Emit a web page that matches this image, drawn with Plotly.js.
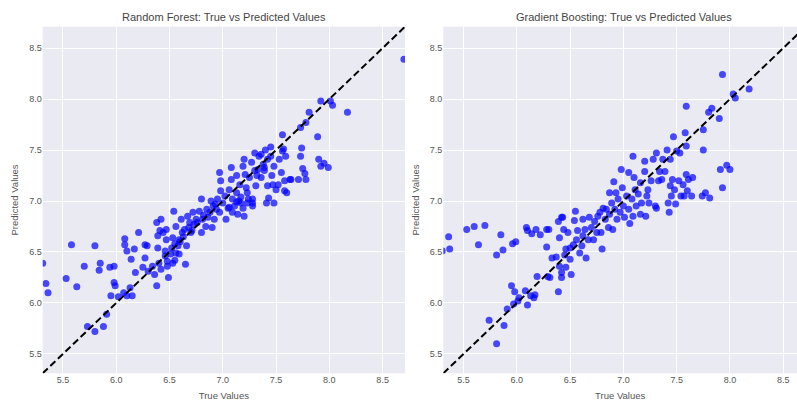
<!DOCTYPE html>
<html>
<head>
<meta charset="utf-8">
<script src="https://cdn.plot.ly/plotly-3.0.1.min.js"></script>
<style>html,body{margin:0;padding:0;background:#fff;}#chart{width:797px;height:401px;}</style>
</head>
<body>
<div id="chart"></div>
<script>
// ---------- Data ----------
const rfTrue = [5.31,5.34,5.36,5.53,5.58,5.63,5.70,5.73,5.80,5.80,5.85,5.84,5.88,5.91,5.94,5.95,5.98,5.98,5.99,6.02,6.08,6.08,6.10,6.07,6.10,6.13,6.15,6.14,6.17,6.18,6.21,6.27,6.29,6.27,6.25,6.30,6.34,6.36,6.38,6.39,6.40,6.38,6.42,6.41,6.44,6.42,6.46,6.46,6.47,6.47,6.49,6.48,6.52,6.48,6.54,6.55,6.56,6.53,6.56,6.58,6.59,6.61,6.62,6.64,6.66,6.65,6.67,6.69,6.70,6.72,6.73,6.75,6.78,6.80,6.80,6.81,6.84,6.85,6.88,6.89,6.91,6.90,6.92,6.94,6.95,6.97,6.98,6.98,6.97,7.00,7.02,7.03,7.05,7.06,7.08,7.08,7.09,7.09,7.11,7.13,7.13,7.14,7.15,7.16,7.17,7.19,7.20,7.20,7.21,7.22,7.23,7.23,7.25,7.27,7.28,7.28,7.30,7.31,7.32,7.33,7.34,7.36,7.38,7.39,7.40,7.41,7.42,7.43,7.45,7.45,7.46,7.47,7.48,7.48,7.50,7.52,7.53,7.55,7.56,7.56,7.57,7.58,7.58,7.59,7.60,7.63,7.64,7.71,7.73,7.73,7.74,7.75,7.77,7.78,7.78,7.81,7.89,7.90,7.92,7.92,7.95,7.99,8.01,8.03,8.17,8.70,6.53,6.59,6.39,7.06,7.13,7.19,7.28,7.24,7.17,7.30,7.39,7.36,7.42,6.60,6.63,6.68,6.71,6.76,6.82,6.86,6.93,6.55,6.51];
const rfPred = [6.39,6.19,6.10,6.24,6.57,6.16,6.36,5.77,5.72,6.56,6.39,6.32,5.77,5.89,6.35,6.07,6.36,6.20,6.17,6.06,6.63,6.57,6.51,6.10,6.07,6.15,6.07,6.43,6.53,6.30,6.69,6.57,6.56,6.44,6.35,6.31,6.36,6.28,6.17,6.54,6.39,6.79,6.82,6.71,6.69,6.33,6.46,6.51,6.62,6.72,6.25,6.36,6.54,6.41,6.90,6.42,6.49,6.64,6.75,6.56,6.62,6.82,6.69,6.72,6.56,6.38,6.85,6.79,6.69,6.89,6.77,6.82,6.90,7.02,6.69,6.82,6.75,6.92,6.89,7.00,6.95,6.74,6.82,6.92,7.02,7.28,7.20,7.10,6.89,6.98,7.05,6.82,6.93,7.11,7.33,7.21,7.02,6.89,6.95,7.08,7.25,6.87,7.00,7.16,6.98,7.34,7.41,6.85,7.26,7.13,7.08,6.98,7.23,7.38,6.98,6.95,7.47,7.15,7.25,7.31,7.44,7.23,7.36,7.33,7.50,6.98,7.15,7.03,7.53,7.44,7.25,7.16,7.34,6.98,7.11,7.16,7.41,7.28,7.49,7.65,7.51,7.10,7.20,7.44,7.08,7.21,7.21,7.21,7.44,7.72,7.52,7.32,7.27,7.21,7.77,7.87,7.63,7.41,7.98,7.34,7.37,7.33,7.98,7.94,7.87,8.39,6.39,6.48,6.66,6.94,6.99,6.93,7.02,7.02,7.04,7.30,7.30,7.46,7.41,6.60,6.65,6.74,6.71,6.79,6.86,6.84,6.97,6.58,6.48];

const gbTrue = [5.30,5.36,5.37,5.53,5.60,5.64,5.70,5.74,5.81,5.81,5.85,5.87,5.88,5.91,5.95,5.96,5.98,5.99,5.97,6.01,6.02,6.09,6.10,6.08,6.10,6.13,6.14,6.16,6.18,6.17,6.19,6.22,6.28,6.28,6.30,6.29,6.31,6.33,6.37,6.39,6.39,6.40,6.40,6.42,6.42,6.43,6.44,6.42,6.45,6.46,6.46,6.48,6.50,6.51,6.50,6.53,6.55,6.54,6.56,6.57,6.59,6.61,6.62,6.62,6.64,6.65,6.67,6.68,6.70,6.72,6.73,6.75,6.76,6.78,6.79,6.80,6.81,6.83,6.84,6.86,6.87,6.87,6.89,6.90,6.91,6.92,6.93,6.94,6.95,6.97,6.98,6.99,7.00,7.01,7.03,7.05,7.05,7.06,7.08,7.09,7.09,7.10,7.11,7.12,7.14,7.16,7.16,7.17,7.20,7.20,7.21,7.22,7.23,7.24,7.26,7.28,7.30,7.31,7.31,7.33,7.34,7.36,7.37,7.39,7.41,7.42,7.43,7.44,7.44,7.45,7.46,7.47,7.48,7.49,7.50,7.52,7.53,7.54,7.56,7.57,7.58,7.59,7.59,7.59,7.60,7.61,7.64,7.65,7.74,7.75,7.75,7.77,7.80,7.81,7.83,7.91,7.90,7.93,7.93,7.97,8.00,8.03,8.05,8.18];
const gbPred = [6.51,6.65,6.53,6.72,6.75,6.57,6.76,5.83,6.47,5.60,6.67,6.52,5.78,5.94,6.17,6.58,6.11,6.60,5.99,6.02,6.05,6.74,6.71,6.12,5.98,6.07,6.68,6.05,6.72,6.08,6.26,6.67,6.72,6.55,6.72,6.26,6.25,6.44,6.45,6.11,6.80,6.64,6.36,6.84,6.25,6.84,6.72,6.30,6.47,6.35,6.53,6.69,6.43,6.28,6.54,6.57,6.90,6.81,6.62,6.71,6.49,6.56,6.82,6.66,6.72,6.44,6.62,6.84,6.74,6.62,6.80,6.69,6.85,6.89,6.69,6.53,6.93,6.82,6.92,6.74,7.08,6.87,6.98,6.72,7.19,6.92,7.08,6.82,7.02,6.89,7.31,7.13,6.95,6.84,7.05,6.92,7.28,6.78,7.02,6.85,7.44,7.23,7.11,6.95,7.07,7.18,6.87,6.98,7.39,7.29,6.85,7.05,7.11,6.98,7.20,7.41,6.95,6.93,7.47,7.20,7.29,7.21,7.41,7.29,7.50,6.98,6.89,7.15,7.41,7.05,7.21,7.63,7.11,6.97,7.49,7.20,7.47,7.05,7.16,7.05,7.67,7.93,7.54,7.26,7.10,7.21,7.05,7.23,7.05,7.50,7.70,7.08,7.87,7.03,7.91,7.31,7.81,8.24,7.13,7.35,7.31,8.05,8.01,8.10];

const AXIS_MIN = 5.31;
const AXIS_MAX = 8.71;
const tickValues = [5.5, 6.0, 6.5, 7.0, 7.5, 8.0, 8.5];
const tickLabels = ['5.5', '6.0', '6.5', '7.0', '7.5', '8.0', '8.5'];

const panelTitles = ['Random Forest: True vs Predicted Values', 'Gradient Boosting: True vs Predicted Values'];
const xTitle = 'True Values';
const yTitle = 'Predicted Values';

// ---------- Styling ----------
const FONT = 'Liberation Sans, Arial, sans-serif';
const W = 797, H = 401;
const leftPx = [42.7, 405.0];
const rightPx = [443.3, 797.0];
const fullRightWidth = leftPx[1] - leftPx[0];
const topPx = 26.7, bottomPx = 373.3;

const scatterStyle = {mode: 'markers', marker: {color: 'blue', size: 7, opacity: 0.7, line: {width: 0}}, hoverinfo: 'x+y'};
const diagStyle = {mode: 'lines', line: {color: 'black', width: 2, dash: '7px,3.5px'}, hoverinfo: 'skip'};

const traces = [
  Object.assign({x: rfTrue, y: rfPred, xaxis: 'x', yaxis: 'y', type: 'scatter'}, scatterStyle),
  Object.assign({x: [AXIS_MIN, AXIS_MAX], y: [AXIS_MIN, AXIS_MAX], xaxis: 'x', yaxis: 'y', type: 'scatter'}, diagStyle),
  Object.assign({x: gbTrue, y: gbPred, xaxis: 'x2', yaxis: 'y2', type: 'scatter'}, scatterStyle),
  Object.assign({x: [AXIS_MIN, AXIS_MAX], y: [AXIS_MIN, AXIS_MAX], xaxis: 'x2', yaxis: 'y2', type: 'scatter'}, diagStyle)
];

function axisBase(extra) {
  return Object.assign({
    tickvals: tickValues, ticktext: tickLabels,
    showgrid: true, gridcolor: '#ffffff', gridwidth: 1,
    zeroline: false, showline: false, ticks: '',
    tickfont: {family: FONT, size: 9, color: '#555555'},
    fixedrange: true
  }, extra);
}

const yDomain = [(H - bottomPx) / H, (H - topPx) / H];
const rightRange = [AXIS_MIN, AXIS_MIN + (AXIS_MAX - AXIS_MIN) * (rightPx[1] - rightPx[0]) / fullRightWidth];
const titleFont = {family: FONT, size: 9.5, color: '#555555'};

const layout = {
  width: W, height: H,
  margin: {l: 0, r: 0, t: 0, b: 0},
  paper_bgcolor: '#ffffff', plot_bgcolor: '#EAEAF2',
  showlegend: false,
  font: {family: FONT, color: '#444444'},
  xaxis: axisBase({domain: [leftPx[0] / W, leftPx[1] / W], range: [AXIS_MIN, AXIS_MAX], anchor: 'y',
    title: {text: xTitle, font: titleFont, standoff: 8}}),
  yaxis: axisBase({domain: yDomain, range: [AXIS_MIN, AXIS_MAX], anchor: 'x',
    title: {text: yTitle, font: titleFont, standoff: 8}}),
  xaxis2: axisBase({domain: [rightPx[0] / W, 1], range: rightRange, anchor: 'y2',
    title: {text: xTitle, font: titleFont, standoff: 8}}),
  yaxis2: axisBase({domain: yDomain, range: [AXIS_MIN, AXIS_MAX], anchor: 'x2',
    title: {text: yTitle, font: titleFont, standoff: 8}}),
  annotations: [
    {text: panelTitles[0], xref: 'paper', yref: 'paper', x: (leftPx[0] + leftPx[1]) / 2 / W, y: 1 - 17 / H,
      xanchor: 'center', yanchor: 'middle', showarrow: false, font: {family: FONT, size: 11, color: '#444444'}},
    {text: panelTitles[1], xref: 'paper', yref: 'paper', x: (rightPx[0] + fullRightWidth / 2) / W, y: 1 - 17 / H,
      xanchor: 'center', yanchor: 'middle', showarrow: false, font: {family: FONT, size: 11, color: '#444444'}}
  ]
};

Plotly.newPlot('chart', traces, layout, {displayModeBar: false, staticPlot: true});
</script>
</body>
</html>
